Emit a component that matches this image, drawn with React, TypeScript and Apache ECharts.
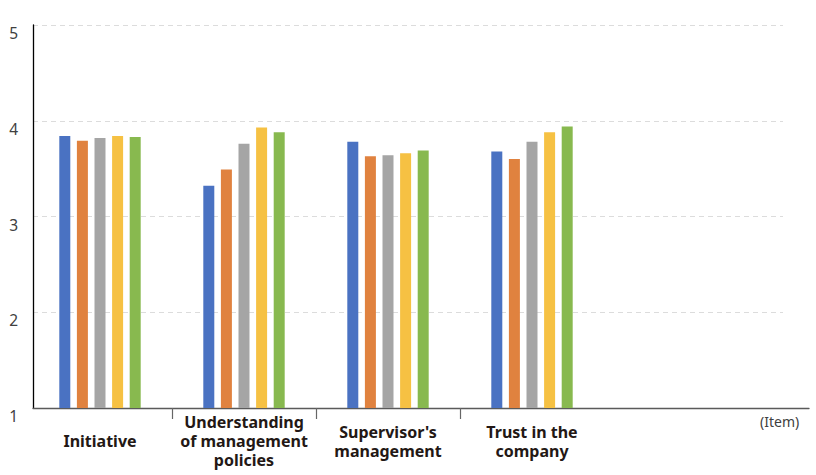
import React, { useEffect, useRef } from "react";
import * as echarts from "echarts";

const categories = [
  "Initiative",
  "Understanding\nof management\npolicies",
  "Supervisor's\nmanagement",
  "Trust in the\ncompany",
];
const seriesNames = ["Series 1", "Series 2", "Series 3", "Series 4", "Series 5"];
const seriesValues = [
  [3.84, 3.32, 3.78, 3.68],
  [3.79, 3.49, 3.63, 3.6],
  [3.82, 3.76, 3.64, 3.78],
  [3.84, 3.93, 3.66, 3.88],
  [3.83, 3.88, 3.69, 3.94],
];
const colors = ["#4A72C2", "#E0823F", "#A5A5A5", "#F6C143", "#88B94F"];
const yTicks = { min: 1, max: 5, interval: 1 };
const separatorValues = [1, 2, 3];
const xUnit = "(Item)";

export default function App() {
  const ref = useRef<HTMLDivElement>(null);
  useEffect(() => {
    if (!ref.current) return;
    const chart = echarts.init(ref.current, null, { renderer: "svg" });
    const font = "'Noto Sans', 'Open Sans', sans-serif";
    chart.setOption({
      animation: false,
      textStyle: { fontFamily: font },
      grid: [
        { left: 28, top: 25, width: 576, height: 383 },
        { left: 33, top: 25, width: 776, height: 383 },
        { left: 33, top: 25, width: 750, height: 383 },
      ],
      xAxis: [
        {
          type: "category",
          gridIndex: 0,
          position: "bottom",
          data: categories,
          axisLine: { show: false },
          axisTick: { show: false },
          axisLabel: {
            interval: 0,
            margin: 33,
            verticalAlign: "middle",
            lineHeight: 19,
            fontSize: 16,
            fontWeight: "bold",
            color: "#231815",
            fontFamily: font,
          },
        },
        {
          type: "value",
          gridIndex: 0,
          position: "bottom",
          min: 0,
          max: 4,
          interval: 1,
          axisLine: { show: false },
          axisLabel: { show: false },
          splitLine: { show: false },
          axisTick: {
            show: true,
            length: 11,
            customValues: separatorValues,
            lineStyle: { color: "#666666", width: 1.2 },
          },
        },
        {
          type: "value",
          gridIndex: 1,
          position: "bottom",
          min: 0,
          max: 1,
          axisLine: { show: true, lineStyle: { color: "#5a5a5a", width: 1.3 } },
          axisTick: { show: false },
          axisLabel: { show: false },
          splitLine: { show: false },
          name: xUnit,
          nameLocation: "end",
          nameGap: -49,
          nameTextStyle: {
            fontSize: 14,
            color: "#404040",
            verticalAlign: "top",
            padding: [6, 0, 0, 0],
            fontFamily: font,
          },
        },
        {
          type: "value",
          gridIndex: 2,
          min: 0,
          max: 1,
          show: false,
        },
      ],
      yAxis: [
        {
          type: "value",
          gridIndex: 0,
          min: yTicks.min,
          max: yTicks.max,
          interval: yTicks.interval,
          offset: -5,
          axisLine: { show: true, lineStyle: { color: "#000000", width: 1.3 } },
          axisTick: { show: false },
          splitLine: { show: false },
          axisLabel: {
            margin: 15,
            fontSize: 15.5,
            color: "#404040",
            verticalAlign: "top",
            fontFamily: font,
          },
        },
        {
          type: "value",
          gridIndex: 1,
          min: yTicks.min,
          max: yTicks.max,
          show: false,
        },
        {
          type: "value",
          gridIndex: 2,
          min: yTicks.min,
          max: yTicks.max,
          interval: yTicks.interval,
          axisLine: { show: false },
          axisTick: { show: false },
          axisLabel: { show: false },
          splitLine: {
            show: true,
            lineStyle: { color: "#dcdcdc", type: [5, 4], width: 1 },
          },
        },
      ],
      series: seriesNames.map((name, i) => ({
        name,
        type: "bar",
        xAxisIndex: 0,
        yAxisIndex: 0,
        barWidth: 11,
        barGap: "60%",
        itemStyle: { color: colors[i] },
        data: seriesValues[i],
      })),
    });
    return () => chart.dispose();
  }, []);
  return (
    <div
      ref={ref}
      style={{ position: "fixed", left: 0, top: 0, width: 816, height: 475, background: "#fff" }}
    />
  );
}
